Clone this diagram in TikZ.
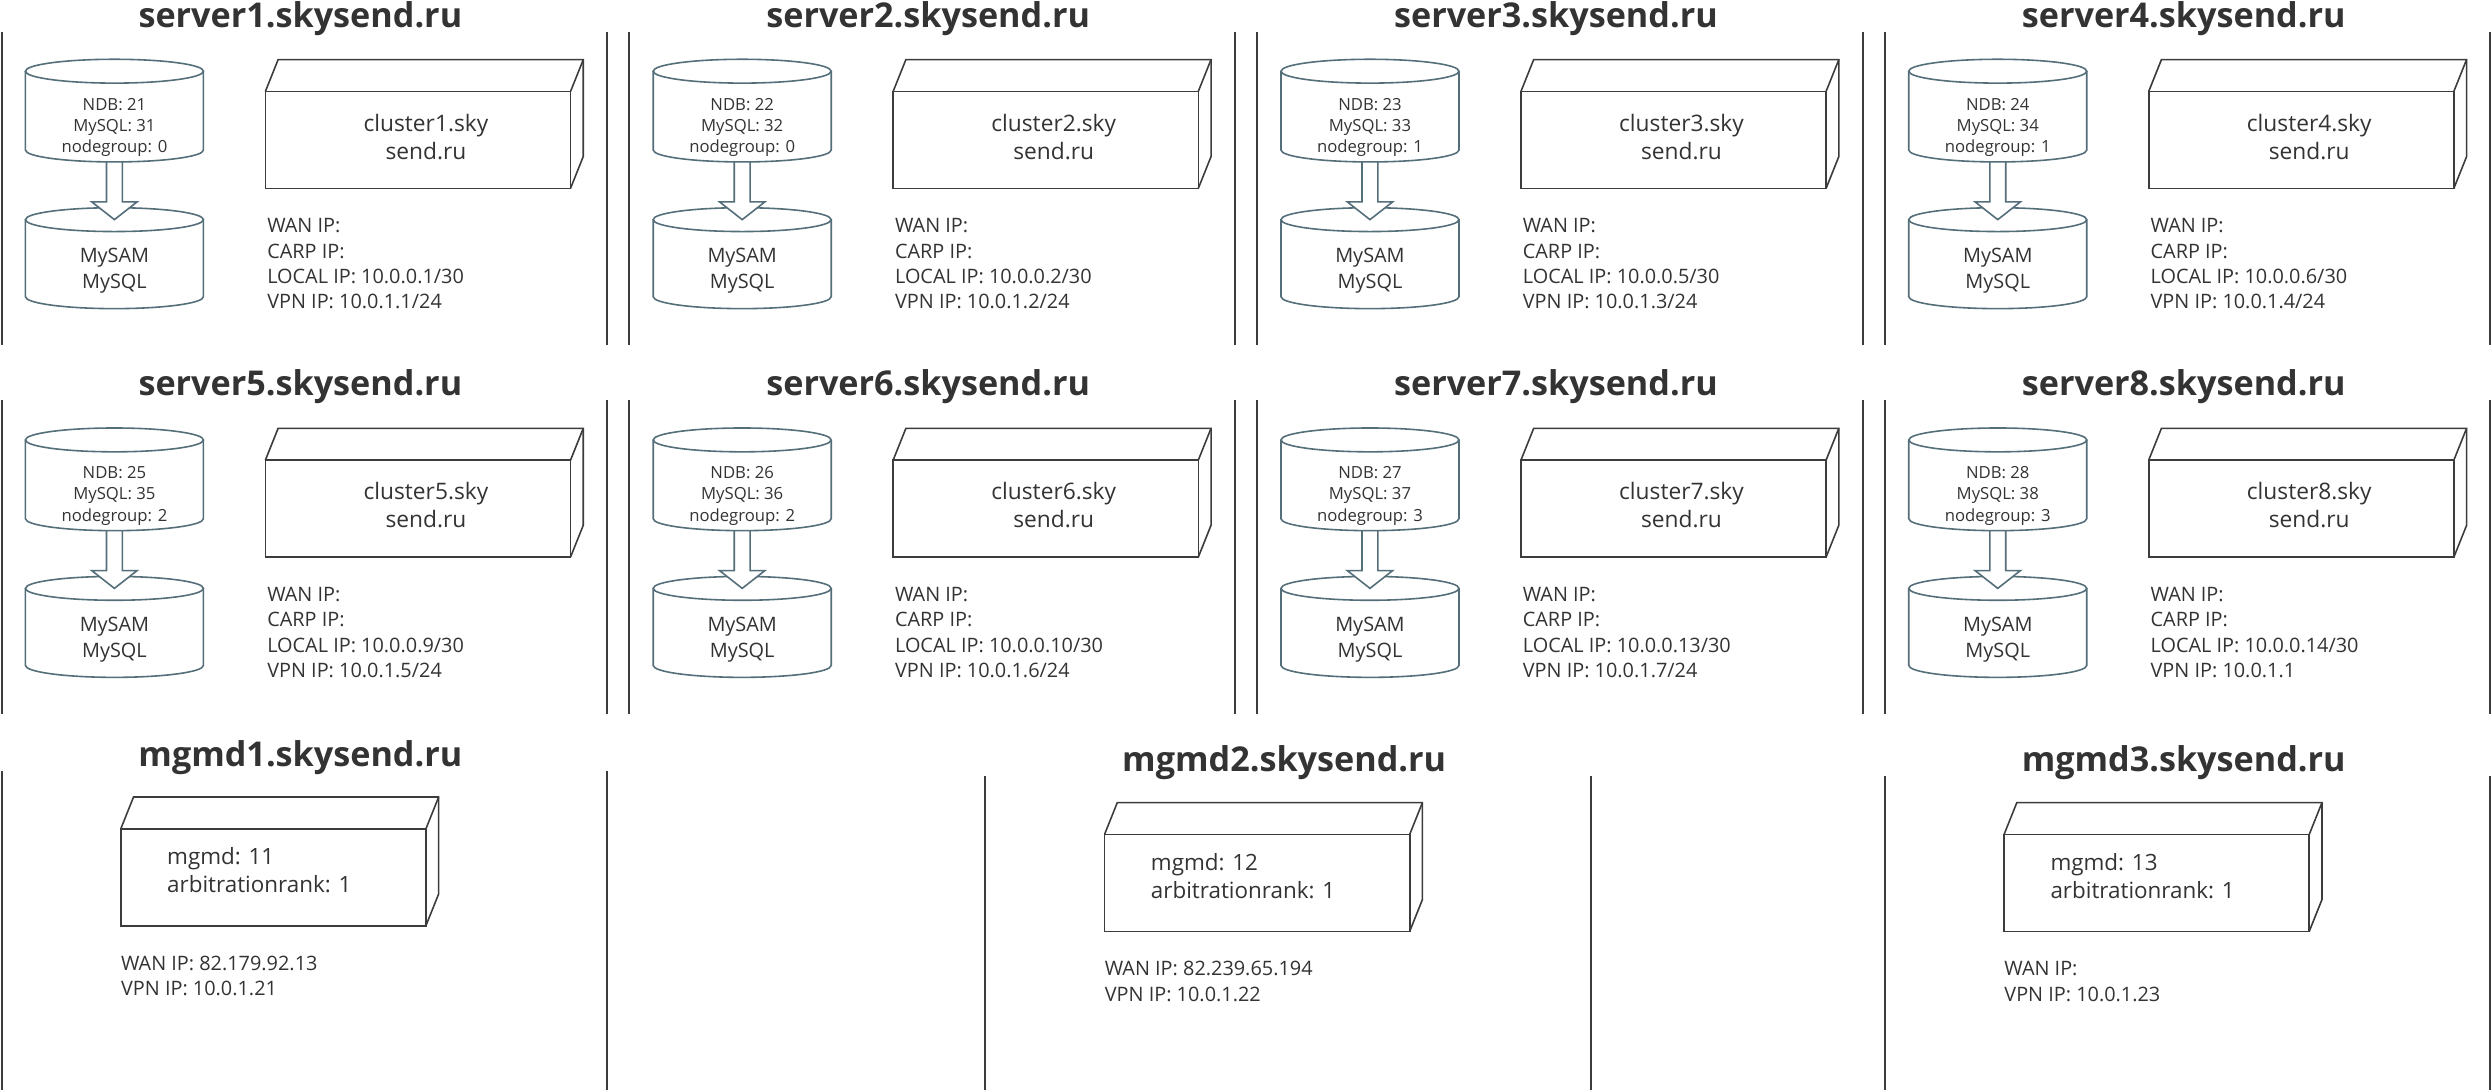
\documentclass[tikz,border=0pt]{standalone}
\usepackage{fontspec}
\setmainfont{Open Sans}
\usetikzlibrary{calc}

\definecolor{txtgray}{RGB}{51,51,51}
\definecolor{dbline}{RGB}{84,110,122}
\definecolor{boxline}{RGB}{60,60,60}

\tikzset{
  hosttitle/.style={font=\fontsize{21.5}{26}\selectfont\bfseries, text=txtgray, anchor=base, inner sep=0pt},
  colsep/.style={draw=boxline, line width=1.2pt},
  dbtxt/.style={font=\fontsize{10.5}{13.3}\selectfont, text=txtgray, align=center, inner sep=0pt},
  isamtxt/.style={font=\fontsize{12.5}{16.6}\selectfont, text=txtgray, align=center, inner sep=0pt},
  dbcyl/.style={draw=dbline, line width=1pt},
  hostbox/.style={draw=boxline, line width=1pt, minimum width=192pt, minimum height=61pt, inner sep=0pt, outer sep=0pt},
  boxedge/.style={draw=boxline, line width=1pt},
  boxtxt/.style={font=\fontsize{14.3}{17.7}\selectfont, text=txtgray, align=center, inner sep=0pt},
  mgtxt/.style={font=\fontsize{14.1}{17.6}\selectfont, text=txtgray, align=left, anchor=west, inner sep=0pt},
  iptxt/.style={font=\fontsize{12.5}{16}\selectfont, text=txtgray, align=left, anchor=west, inner sep=0pt},
}

\begin{document}
\begin{tikzpicture}[x=1pt, y=1pt]
  \fill[white] (0,0) rectangle (1568,686);
  \useasboundingbox (0,0) rectangle (1568,686);

  % data nodes: two rows of four servers
  \foreach \n/\col/\row/\grp/\loc/\vpn in {1/0/0/0/{1/30}/{1.1/24}, 2/1/0/0/{2/30}/{1.2/24},
      3/2/0/1/{5/30}/{1.3/24}, 4/3/0/1/{6/30}/{1.4/24}, 5/0/1/2/{9/30}/{1.5/24},
      6/1/1/2/{10/30}/{1.6/24}, 7/2/1/3/{13/30}/{1.7/24}, 8/3/1/3/{14/30}/{1.1}}{
    \begin{scope}[shift={(395*\col,-232*\row)}]
      \pgfmathtruncatemacro{\ndb}{20+\n}
      \pgfmathtruncatemacro{\sql}{30+\n}
      \node[hosttitle] (host) at (189,669) {server\n.skysend.ru};
      \draw[colsep] (1,666) -- (1,469);
      \draw[colsep] (382,666) -- (382,469);
      % cylinders
      \node[dbtxt] (ndb) at (72,606) {NDB: \ndb\\MySQL: \sql\\nodegroup: \grp};
      \node[isamtxt] (isam) at (72,515.5) {MySAM\\MySQL};
      \draw[dbcyl] ($(isam)+(-56,32.3)$) -- ($(isam)+(-56,-16.2)$) arc[start angle=180, end angle=360, x radius=56pt, y radius=7.5pt] -- ($(isam)+(56,32.3)$);
      \draw[dbcyl] ($(isam)+(0,32.3)$) ellipse[x radius=56pt, y radius=7.5pt];
      \draw[dbcyl, fill=white] ($(ndb)+(-5,-21.9)$) -- ($(isam)+(-5,43.5)$) -- ($(isam)+(-14.3,43.5)$) -- ($(isam)+(0,32.3)$)
        -- ($(isam)+(14.3,43.5)$) -- ($(isam)+(5,43.5)$) -- ($(ndb)+(5,-21.9)$);
      \draw[dbcyl] ($(ndb)+(-56,35.2)$) -- ($(ndb)+(-56,-14.4)$) arc[start angle=180, end angle=360, x radius=56pt, y radius=7.5pt] -- ($(ndb)+(56,35.2)$);
      \draw[dbcyl] ($(ndb)+(0,35.2)$) ellipse[x radius=56pt, y radius=7.5pt];
      % cluster box
      \node[hostbox] (clu) at (263,598) {};
      \draw[boxedge] (clu.north west) -- ++(8,20) -- ($(clu.north east)+(8,20)$) -- ($(clu.south east)+(8,20)$) -- (clu.south east);
      \draw[boxedge] (clu.north east) -- ++(8,20);
      \node[boxtxt] (clutxt) at ($(clu)+(5,2)$) {cluster\n.sky\\send.ru};
      \node[iptxt] (ip) at (168,520) {WAN IP:\\CARP IP:\\LOCAL IP: 10.0.0.\loc\\VPN IP: 10.0.\vpn};
    \end{scope}
  }

  % management nodes
  \foreach \m/\dx/\dy/\wan in {1/0/0/{82.179.92.13}, 2/619/-3.5/{82.239.65.194}, 3/1185/-3.5/{}}{
    \begin{scope}[shift={(\dx,\dy)}]
      \node[hosttitle] (mgtitle) at (189,204) {mgmd\m.skysend.ru};
      \node[hostbox] (mg) at (172,134) {};
      \draw[boxedge] (mg.north west) -- ++(8,20) -- ($(mg.north east)+(8,20)$) -- ($(mg.south east)+(8,20)$) -- (mg.south east);
      \draw[boxedge] (mg.north east) -- ++(8,20);
      \node[mgtxt] (mginfo) at ($(mg.west)+(29,4.25)$) {mgmd: 1\m\\arbitrationrank: 1};
      \node[iptxt] (mgip) at (76,72) {WAN IP: \wan\\VPN IP: 10.0.1.2\m};
    \end{scope}
  }
  \draw[colsep] (1,201) -- (1,0);
  \draw[colsep] (382,201) -- (382,0);
  \foreach \x in {620,1001,1186,1567}
    \draw[colsep] (\x,198) -- (\x,0);
\end{tikzpicture}
\end{document}
